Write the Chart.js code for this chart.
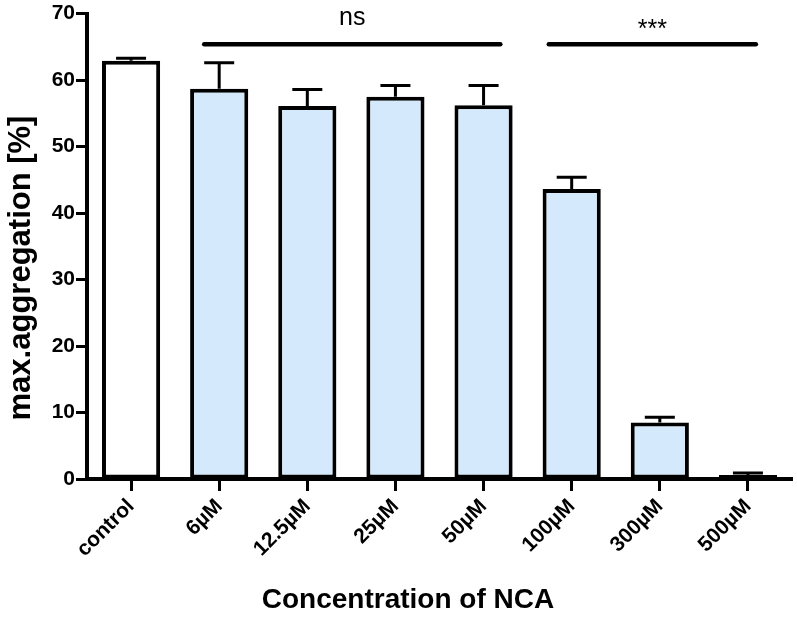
<!DOCTYPE html>
<html lang="en">
<head>
  <meta charset="UTF-8">
  <title>Max aggregation vs NCA concentration</title>
  <script src="https://cdn.jsdelivr.net/npm/chart.js"></script>
  <style>
    body {
      margin: 0;
      background: #fff;
    }
    #wrap {
      width: 797px;
      height: 620px;
    }
  </style>
</head>
<body>
  <div id="wrap">
    <canvas id="barChart" width="797" height="620"></canvas>
  </div>

  <script>
    // categories and values
    const concentrations = ["control", "6µM", "12.5µM", "25µM", "50µM", "100µM", "300µM", "500µM"];
    const maxAggregation = [62.9, 58.7, 56.1, 57.5, 56.2, 43.6, 8.5, 0.6];
    const errorUp = [0.4, 3.9, 2.5, 1.7, 3.0, 1.8, 0.8, 0.3];
    const yTicks = [0, 10, 20, 30, 40, 50, 60, 70];

    // significance brackets (category index span) and labels
    const sigLabels = ["ns", "***"];
    const sigFrom = [0.83, 4.74];
    const sigTo = [4.19, 7.09];

    const fillColors = concentrations.map((c, i) => i === 0 ? "#ffffff" : "#d4e9fb");
    const FONT = "Arial, 'Liberation Sans', sans-serif";

    // upper error bars
    const errorBars = {
      id: "errorBars",
      afterDatasetsDraw(chart) {
        const ctx = chart.ctx;
        const y = chart.scales.y;
        const meta = chart.getDatasetMeta(0);
        ctx.save();
        ctx.strokeStyle = "#000";
        ctx.lineWidth = 3;
        meta.data.forEach((bar, i) => {
          const yBar = y.getPixelForValue(maxAggregation[i]);
          const yTop = y.getPixelForValue(maxAggregation[i] + errorUp[i]);
          ctx.beginPath();
          ctx.moveTo(bar.x, yBar);
          ctx.lineTo(bar.x, yTop);
          ctx.moveTo(bar.x - 15, yTop);
          ctx.lineTo(bar.x + 15, yTop);
          ctx.stroke();
        });
        ctx.restore();
      }
    };

    // significance lines + labels, axis titles
    const annotations = {
      id: "annotations",
      afterDraw(chart) {
        const ctx = chart.ctx;
        const x = chart.scales.x;
        const y = chart.scales.y;
        const x0 = x.getPixelForValue(0);
        const step = x.getPixelForValue(1) - x0;
        const lineY = y.getPixelForValue(65.4);
        const textOffsets = [19, 7];
        ctx.save();
        ctx.strokeStyle = "#000";
        ctx.fillStyle = "#000";
        ctx.lineWidth = 4.5;
        ctx.lineCap = "round";
        sigLabels.forEach((label, i) => {
          const a = x0 + sigFrom[i] * step;
          const b = x0 + sigTo[i] * step;
          ctx.beginPath();
          ctx.moveTo(a, lineY);
          ctx.lineTo(b, lineY);
          ctx.stroke();
          ctx.font = "25px " + FONT;
          ctx.textAlign = "center";
          ctx.textBaseline = "alphabetic";
          ctx.fillText(label, (a + b) / 2, lineY - textOffsets[i]);
        });

        // axis titles
        ctx.font = "bold 28px " + FONT;
        ctx.textAlign = "center";
        ctx.textBaseline = "middle";
        ctx.fillText("Concentration of NCA", 408, 600);

        ctx.translate(21, 268);
        ctx.rotate(-Math.PI / 2);
        ctx.font = "bold 31px " + FONT;
        ctx.fillText("max.aggregation [%]", 0, 0);
        ctx.restore();
      }
    };

    new Chart(document.getElementById("barChart"), {
      type: "bar",
      data: {
        labels: concentrations,
        datasets: [{
          data: maxAggregation,
          backgroundColor: fillColors,
          borderColor: "#000",
          borderWidth: 4,
          borderSkipped: false,
          barPercentage: 1,
          categoryPercentage: 0.66
        }]
      },
      options: {
        responsive: false,
        animation: false,
        layout: {
          padding: { top: 11, left: 0, right: 5, bottom: 0 }
        },
        plugins: {
          legend: { display: false },
          tooltip: { enabled: false }
        },
        scales: {
          x: {
            afterFit(scale) { scale.height = 141; },
            border: { display: true, color: "#000", width: 4 },
            grid: {
              offset: false,
              drawOnChartArea: false,
              drawTicks: true,
              tickLength: 12,
              tickWidth: 3,
              tickColor: "#000"
            },
            ticks: {
              color: "#000",
              font: { family: FONT, size: 21, weight: "bold" },
              minRotation: 45,
              maxRotation: 45,
              padding: 3
            }
          },
          y: {
            min: 0,
            max: 70,
            afterFit(scale) { scale.width = 87; },
            afterBuildTicks(scale) {
              scale.ticks = yTicks.map(v => ({ value: v }));
            },
            border: { display: true, color: "#000", width: 4 },
            grid: {
              drawOnChartArea: false,
              drawTicks: true,
              tickLength: 11,
              tickWidth: 3,
              tickColor: "#000"
            },
            ticks: {
              color: "#000",
              font: { family: FONT, size: 21, weight: "bold" },
              padding: 1
            }
          }
        }
      },
      plugins: [errorBars, annotations]
    });
  </script>
</body>
</html>
